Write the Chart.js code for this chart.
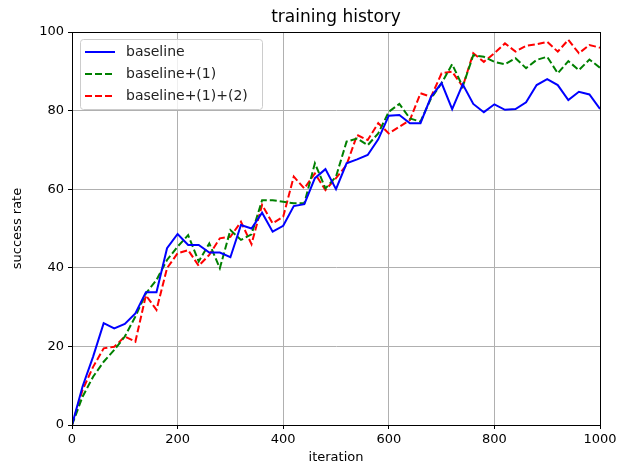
<!DOCTYPE html>
<html>
<head>
<meta charset="utf-8">
<script src="https://cdn.jsdelivr.net/npm/chart.js@4/dist/chart.umd.min.js"></script>
<style>
  body { margin: 0; background: #fff; }
  #wrap { width: 627px; height: 468px; }
</style>
</head>
<body>
<div id="wrap"><canvas id="myChart" width="627" height="468"></canvas></div>
<script>
// iterations 0..1000, one point every 20
let iterations = [];
for (let i = 0; i <= 1000; i += 20) iterations.push(i);

let baseline = [0, 9.8, 17.4, 25.9, 24.6, 25.7, 28.4, 33.8, 33.8, 45.0, 48.6, 45.8, 45.8, 43.9, 43.9, 42.7, 50.9, 50.0,
  54.0, 49.2, 50.7, 55.7, 56.2, 62.8, 65.1, 60.0, 66.6, 67.6, 68.7, 72.7, 78.7, 78.9, 76.8, 76.8, 83.5, 87.0,
  80.4, 86.7, 81.7, 79.6, 81.6, 80.2, 80.4, 82.1, 86.5, 88.0, 86.5, 82.7, 84.8, 84.1, 80.4];
let plus1 = [0, 7.2, 12.3, 16.1, 19.1, 22.5, 27.6, 33.5, 36.9, 42.0, 45.4, 48.3, 41.6, 46.2, 39.9, 49.6, 47.1, 48.5,
  57.2, 57.2, 56.8, 56.4, 56.4, 66.6, 60.2, 63.2, 72.1, 72.9, 71.2, 74.2, 79.7, 81.7, 78.0, 77.2, 83.1, 87.0,
  91.8, 86.1, 94.1, 93.7, 92.4, 91.8, 93.3, 90.8, 92.9, 93.7, 89.5, 92.6, 90.3, 93.0, 90.9];
let plus12 = [0, 8.9, 14.8, 19.5, 19.9, 22.5, 21.2, 33.0, 29.3, 39.9, 43.7, 44.5, 40.5, 43.3, 47.5, 47.9, 51.7, 46.0,
  56.0, 51.3, 53.0, 63.2, 60.2, 64.0, 59.8, 62.8, 66.2, 73.8, 72.5, 76.8, 74.2, 75.9, 77.6, 84.4, 83.5, 89.5,
  89.9, 86.1, 94.6, 92.4, 94.6, 97.1, 95.0, 96.5, 96.9, 97.5, 95.0, 98.0, 94.6, 96.7, 96.0];

let seriesNames = ["baseline", "baseline+(1)", "baseline+(1)+(2)"];
let seriesColors = ["#0000ff", "#008000", "#ff0000"];
let seriesDash = [[], [7, 3], [7, 3]];
let seriesData = [baseline, plus1, plus12];
let chartTitle = "training history";

const FONT = "'DejaVu Sans', sans-serif";

function toPoints(arr) {
  return arr.map((v, i) => ({ x: iterations[i], y: v }));
}

// title over the axes, frame, legend box (matplotlib style)
const mplExtras = {
  id: "mplExtras",
  afterDraw(chart) {
    const ctx = chart.ctx;
    const a = chart.chartArea;
    ctx.save();
    // title centred on the plot area
    ctx.fillStyle = "#000";
    ctx.font = "17px " + FONT;
    ctx.textAlign = "center";
    ctx.textBaseline = "alphabetic";
    ctx.fillText(chartTitle, (a.left + a.right) / 2, 22);
    ctx.textAlign = "left";
    // frame
    ctx.strokeStyle = "#000";
    ctx.lineWidth = 1;
    ctx.strokeRect(Math.round(a.left) + 0.5, Math.round(a.top) + 0.5,
      Math.round(a.right - a.left), Math.round(a.bottom - a.top));
    // legend
    const x0 = a.left + 8, y0 = a.top + 7, w = 182, h = 70;
    ctx.fillStyle = "rgba(255,255,255,0.8)";
    ctx.strokeStyle = "#cccccc";
    ctx.lineWidth = 1;
    ctx.beginPath();
    ctx.roundRect(x0 + 0.5, y0 + 0.5, w, h, 3);
    ctx.fill();
    ctx.stroke();
    ctx.font = "14px " + FONT;
    ctx.textBaseline = "middle";
    for (let i = 0; i < seriesNames.length; i++) {
      const yy = y0 + 13 + i * 22;
      ctx.strokeStyle = seriesColors[i];
      ctx.lineWidth = 2;
      ctx.setLineDash(seriesDash[i]);
      ctx.beginPath();
      ctx.moveTo(x0 + 5, yy);
      ctx.lineTo(x0 + 35, yy);
      ctx.stroke();
      ctx.setLineDash([]);
      ctx.fillStyle = "#222";
      ctx.fillText(seriesNames[i], x0 + 46, yy);
    }
    ctx.restore();
  }
};

let ctx = document.getElementById("myChart").getContext("2d");
let myChart = new Chart(ctx, {
  type: "line",
  data: {
    datasets: seriesNames.map((name, i) => ({
      label: name,
      data: toPoints(seriesData[i]),
      borderColor: seriesColors[i],
      borderDash: seriesDash[i],
      borderWidth: 2,
      pointRadius: 0,
      tension: 0,
      fill: false
    }))
  },
  options: {
    responsive: false,
    devicePixelRatio: 1,
    animation: false,
    layout: { padding: { left: 10, right: 27, top: 32, bottom: 3 } },
    plugins: {
      legend: { display: false },
      tooltip: { enabled: false },
      title: { display: false }
    },
    scales: {
      x: {
        type: "linear",
        min: 0,
        max: 1000,
        ticks: {
          stepSize: 200, color: "#000", font: { family: FONT, size: 13 }, padding: 3, maxRotation: 0,
          callback: v => String(v)
        },
        grid: { color: "#b0b0b0", lineWidth: 1, tickColor: "#000", tickLength: 4 },
        border: { color: "#000" },
        title: { display: true, text: "iteration", color: "#000", font: { family: FONT, size: 13 }, padding: { top: 2, bottom: 0 } },
        afterFit: s => { s.height = 40; }
      },
      y: {
        min: 0,
        max: 100,
        ticks: { stepSize: 20, color: "#000", font: { family: FONT, size: 13 }, padding: 4, callback: v => String(v) },
        grid: { color: "#b0b0b0", lineWidth: 1, tickColor: "#000", tickLength: 4 },
        border: { color: "#000" },
        title: { display: true, text: "success rate", color: "#000", font: { family: FONT, size: 13 }, padding: { top: 0, bottom: 4 } },
        afterFit: s => { s.width = 62; }
      }
    }
  },
  plugins: [mplExtras]
});
</script>
</body>
</html>
